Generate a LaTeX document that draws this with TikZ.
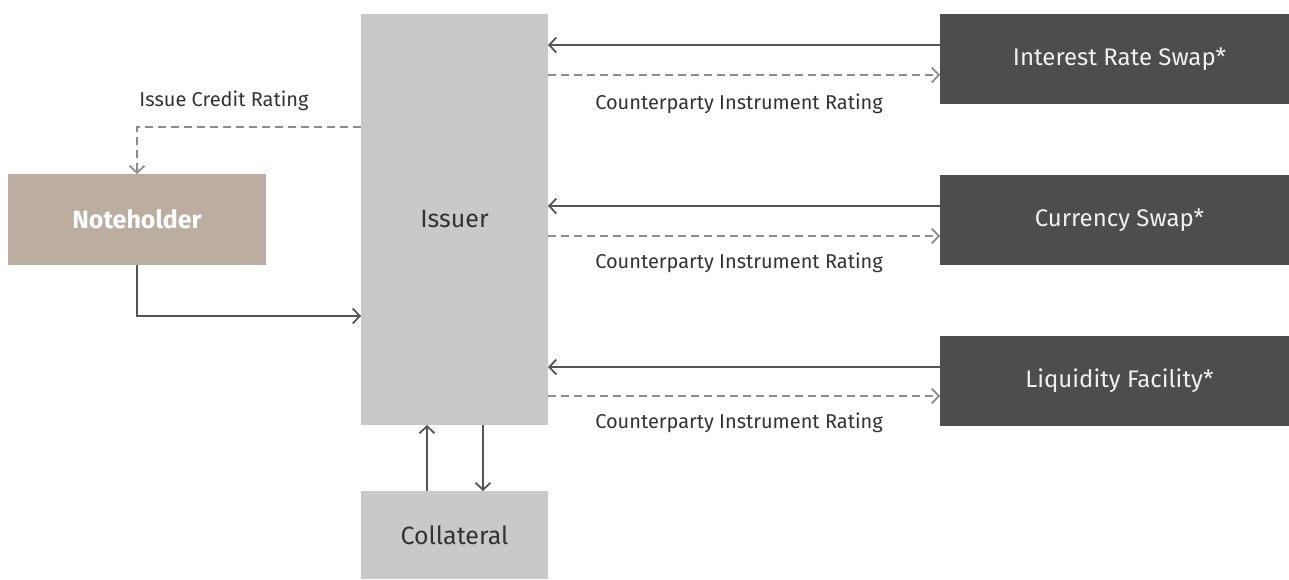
\documentclass[tikz,border=0pt]{standalone}
\usepackage{fontspec}
\setmainfont{Fira Sans}
\usetikzlibrary{arrows.meta}
\definecolor{issuergray}{HTML}{C8C9C8}
\definecolor{taupe}{HTML}{BBADA0}
\definecolor{darkbox}{HTML}{4D4D4D}
\definecolor{solidline}{HTML}{555555}
\definecolor{dashline}{HTML}{8C8C8C}
\definecolor{txt}{HTML}{333333}
\begin{document}
\begin{tikzpicture}[x=1pt,y=-1pt,
  box/.style={rectangle,inner sep=0pt,outer sep=0pt,font=\fontsize{25}{28}\selectfont},
  lightbox/.style={box,fill=issuergray,text=txt},
  darkrect/.style={box,fill=darkbox,text=white!94!black,minimum width=349pt,minimum height=90pt,font=\fontsize{24}{28}\selectfont,execute at begin node={\hspace*{10pt}}},
  lbl/.style={text=txt,font=\fontsize{20}{24}\selectfont,inner sep=0pt},
  solidarrow/.style={draw=solidline,line width=1.8pt,-{Straight Barb[length=7pt,width=15pt,line width=1.8pt]}},
  dasharrow/.style={draw=dashline,line width=1.8pt,dash pattern=on 8pt off 5pt,-{Straight Barb[length=7pt,width=15pt,line width=1.8pt]}}
]
\useasboundingbox (0,0) rectangle (1289,579);
\node[lightbox,minimum width=187pt,minimum height=411pt] (issuer) at (454.5,219.5) {Issuer};
\node[box,fill=taupe,text=white,font=\fontsize{25}{28}\selectfont\bfseries,minimum width=258pt,minimum height=91pt] (note) at (137,219.5) {Noteholder};
\node[lightbox,minimum width=187pt,minimum height=88pt] (coll) at (454.5,535) {Collateral};
\node[darkrect] (irs) at (1114.5,59) {Interest Rate Swap*};
\node[darkrect] (cur) at (1114.5,220) {Currency Swap*};
\node[darkrect] (liq) at (1114.5,380.5) {Liquidity Facility*};

\draw[solidarrow] (irs.west |- 0,45) -- (issuer.east |- 0,45);
\draw[dasharrow] (issuer.east |- 0,75) -- (irs.west |- 0,75);
\node[lbl] (l1) at (739,104) {Counterparty Instrument Rating};

\draw[solidarrow] (cur.west |- 0,206) -- (issuer.east |- 0,206);
\draw[dasharrow] (issuer.east |- 0,236) -- (cur.west |- 0,236);
\node[lbl] (l2) at (739,263) {Counterparty Instrument Rating};

\draw[solidarrow] (liq.west |- 0,367) -- (issuer.east |- 0,367);
\draw[dasharrow] (issuer.east |- 0,396) -- (liq.west |- 0,396);
\node[lbl] (l3) at (739,423) {Counterparty Instrument Rating};

\draw[dasharrow] (issuer.west |- 0,127) -| (note.north);
\node[lbl] (l4) at (224,101) {Issue Credit Rating};
\draw[solidarrow] (note.south) |- (issuer.west |- 0,316);

\draw[solidarrow] (coll.north -| 427,0) -- (issuer.south -| 427,0);
\draw[solidarrow] (issuer.south -| 483,0) -- (coll.north -| 483,0);
\end{tikzpicture}
\end{document}
